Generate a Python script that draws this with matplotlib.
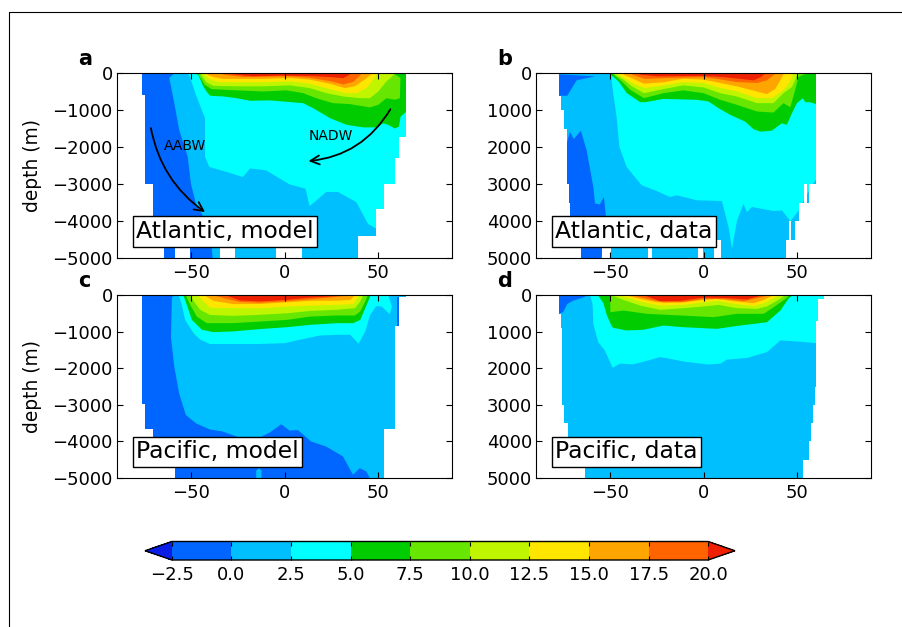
import matplotlib
matplotlib.use("Agg")
import matplotlib.pyplot as plt
from matplotlib.colors import ListedColormap, BoundaryNorm
from matplotlib.cm import ScalarMappable
from matplotlib.lines import Line2D
from matplotlib.ticker import FuncFormatter

levels = [-2.5, 0, 2.5, 5, 7.5, 10, 12.5, 15, 17.5, 20]
colors = ["#0066ff", "#00bfff", "#00ffff", "#00cc00", "#66e600",
          "#c0f500", "#ffe600", "#ffa500", "#ff6400"]
color_under = "#0a1ee6"
color_over = "#ee2000"

# Atlantic, model: sea floor (step) and isotherm depths
a_floor_lat = [-90, -76.7, -74.7, -70.7, -64.6, -58.7, -50.6, -34.8, -26.6, -4.8, 9.3, 39.5, 49.4, 53.3, 59.2, 61.6, 65.5, 90]
a_floor_z = [0, 600, 3000, 4700, 5000, 4700, 5000, 4700, 5000, 4700, 5000, 4400, 3670, 3000, 2300, 1720, 0, 0]
a_cold_lat = [-90, -59, -61.9, -59.2, -56.6, -52, -50.3, -47.6, -44, -39.5, -38.6, -90]
a_cold_z = [0, 0, 130, 815, 1540, 2265, 2990, 3530, 3850, 4500, 5000, 5000]
a_lat_25 = [-52, -50.9, -47.6, -42.7, -42.7, -40.4, -31.4, -22.4, -18.5, -9.9, 2.7, 11.3, 13.5, 22.4, 28.7, 38.6, 44.9, 49.4, 70]
a_z_25 = [20, 90, 590, 1220, 2265, 2540, 2670, 2810, 2580, 2630, 3010, 3125, 3600, 3215, 3215, 3490, 4080, 4210, 4300]
a_lat_50 = [-48, -46.4, -43.7, -41.9, -40, -33, -25.8, -18.6, -7.9, 10, 15.4, 24.4, 33.3, 42.3, 49.5, 53, 55.7, 59.3, 61.5, 62.4, 65.6, 70]
a_z_50 = [20, 45, 360, 500, 615, 634, 680, 750, 740, 815, 950, 1220, 1400, 1470, 1470, 1360, 1400, 1500, 1450, 1180, 1040, 1040]
a_lat_75 = [-45.9, -42.8, -39.2, -25.8, -11.5, 1, 10, 17, 26, 35, 45.9, 50.4, 54.8, 59.3, 62, 62.3, 59.3]
a_z_75 = [70, 320, 435, 470, 500, 470, 545, 680, 815, 840, 930, 860, 680, 725, 680, 135, 30]
a_lat_100 = [-44.6, -42, -38.3, -25.8, -11.5, 3, 13.6, 22.6, 31.5, 40.5, 45.9, 50.4, 54.8, 57.5, 59]
a_z_100 = [60, 250, 345, 360, 360, 335, 410, 545, 635, 680, 680, 500, 225, 110, 25]
a_lat_125 = [-42.8, -40, -34.8, -25.8, -11.5, 3, 13.6, 24.4, 33.3, 38.7, 44, 47.7, 49.8]
a_z_125 = [60, 180, 250, 250, 250, 225, 290, 435, 545, 545, 410, 180, 20]
a_lat_150 = [-42, -38, -33, -24, -11.5, 3, 13.6, 24.4, 32.4, 37.8, 43, 46.8]
a_z_150 = [40, 110, 160, 160, 160, 135, 180, 290, 410, 360, 180, 25]
a_lat_175 = [-33, -22, -11.5, 3, 13.6, 24.4, 31.5, 37, 41.4]
a_z_175 = [45, 110, 100, 90, 130, 220, 310, 240, 25]
a_lat_200 = [-29.4, -16.8, -2.5, 13.6, 24.4, 31.5, 35]
a_z_200 = [25, 90, 70, 80, 110, 140, 50]

# Atlantic, data
b_floor_lat = [-90, -77.7, -76.7, -74.7, -73.6, -72.5, -71.6, -65.7, -54.8, -49.7, -29.6, -27.6, -2.7, -0.5, 5.4, 9.5, 44.5, 46.1, 47, 49.4, 51.5, 54.2, 55.5, 56.8, 60.5, 90]
b_floor_z = [0, 615, 1000, 1500, 3000, 3500, 4700, 5000, 4700, 5000, 4700, 5000, 4700, 5000, 4500, 5000, 4500, 4000, 4500, 4000, 3500, 3000, 3500, 3000, 0, 0]
b_cold_lat = [-90, -58.3, -68.2, -73.2, -76.3, -90]
b_cold_z = [0, 90, 200, 615, 615, 615]
b_pool_lat = [-74, -71.8, -69.7, -65.9, -62.8, -59.2, -58.3, -55.7, -53.5, -52.4, -54.8, -74]
b_pool_z = [2000, 1585, 1785, 1560, 2085, 3080, 3530, 3550, 3350, 3900, 5000, 5000]
b_lat_25 = [-49.9, -48.5, -46.7, -45.2, -41.3, -33.2, -25.1, -18, -14.4, -3.6, 9.9, 13.5, 15.3, 18, 21.5, 23.3, 26, 37.7, 42.2, 46.7, 51.2, 54.8, 60.1, 70]
b_z_25 = [0, 545, 1180, 1990, 2540, 3035, 3190, 3350, 3305, 3440, 3460, 4170, 4750, 3990, 3530, 3760, 3620, 3730, 3715, 4005, 3715, 3350, 2900, 2900]
b_lat_50 = [-49.8, -45.7, -41.2, -34, -31.4, -21.5, -3.6, 2.7, 8, 14.3, 22.4, 26.9, 30.5, 36.7, 42, 44.8, 47.5, 50.2, 53.4, 54.7, 57.3, 60.4, 70]
b_z_50 = [45, 225, 545, 790, 790, 700, 725, 770, 950, 1130, 1315, 1520, 1585, 1560, 1360, 1400, 1090, 815, 680, 790, 790, 840, 840]
b_lat_75 = [-48.4, -44, -39.4, -32, -21.5, -10.8, 0, 9, 17.9, 28.7, 37.6, 43, 46.6, 49.3, 51, 53.8, 55.6]
b_z_75 = [45, 225, 455, 680, 545, 470, 545, 725, 860, 1040, 1070, 815, 925, 455, 110, 45, 20]
b_lat_100 = [-47.5, -43, -38.5, -32, -21.5, -10.8, 0, 9, 17.9, 28.7, 37.6, 43, 47.5, 49.8, 50.5]
b_z_100 = [45, 180, 360, 545, 435, 335, 390, 545, 635, 815, 815, 545, 380, 135, 25]
b_lat_125 = [-45.7, -41.2, -36.7, -31.4, -21.5, -10.8, 0, 9, 17.9, 28.7, 36.7, 42, 44.8, 47.5, 48]
b_z_125 = [45, 180, 315, 405, 335, 245, 270, 405, 495, 680, 680, 500, 360, 135, 25]
b_lat_150 = [-43, -37.6, -32, -21.5, -10.8, 0, 9, 17.9, 28.7, 34, 38.5, 42, 43]
b_z_150 = [45, 160, 290, 250, 155, 180, 270, 360, 500, 570, 435, 135, 25]
b_lat_175 = [-38.5, -31.4, -19.7, 0, 9, 17.9, 28.7, 34, 38.5]
b_z_175 = [45, 160, 135, 110, 175, 245, 270, 200, 25]
b_lat_200 = [-34, -25, 0, 10.7, 19.7, 26.9, 30.5, 33]
b_z_200 = [45, 90, 80, 110, 160, 200, 120, 25]

# Pacific, model
c_floor_lat = [-90, -76.7, -74.7, -70.7, -58.7, 53.3, 59.2, 61.4, 65.5, 90]
c_floor_z = [0, 2980, 3670, 4700, 5000, 3670, 860, 60, 0, 0]
c_cold_lat = [-90, -59, -60.5, -61, -59.2, -56.6, -53, -47.6, -40.4, -33.2, -24.2, -15.3, -8, -1.8, 2.7, 7.2, 14.4, 22.4, 31.4, 36.8, 40.4, 44, 45.8, -12.4, -12.4, -13.8, -15.2, -15.2, -90]
c_cold_z = [0, 0, 60, 1150, 1965, 2690, 3280, 3505, 3670, 3730, 3895, 3940, 3760, 3530, 3705, 3690, 4005, 4140, 4410, 4910, 4730, 4820, 5000, 5000, 4800, 4730, 4800, 5000, 5000]
c_pool_lat = [60.7, 70, 70, 60.7]
c_pool_z = [60, 60, 900, 900]
c_lat_25 = [-56.5, -55.2, -53.4, -48.9, -45.3, -40, -31, -14.4, 0, 8.4, 19.2, 30, 35.3, 39.8, 43.4, 46, 49.3, 52.3, 56.5, 57.7, 56]
c_z_25 = [45, 270, 680, 1040, 1220, 1340, 1340, 1340, 1315, 1220, 1105, 1087, 1087, 1330, 995, 545, 300, 317, 525, 317, 45]
c_lat_50 = [-54.3, -52.5, -49.8, -44.4, -38.2, -27.4, -13, 1.3, 13.8, 28, 37, 40.7, 43.4, 46]
c_z_50 = [20, 270, 680, 950, 1015, 995, 930, 880, 815, 770, 770, 680, 360, 45]
c_lat_75 = [-52.9, -50.7, -47.1, -41.8, -27.4, -13, 1.3, 13.8, 28, 37.9, 40.7, 43.4, 44.6]
c_z_75 = [20, 270, 590, 770, 770, 725, 680, 590, 560, 560, 450, 180, 25]
c_lat_100 = [-50.7, -48, -45.3, -40, -27.4, -14.9, 1.3, 13.8, 28, 37.9, 40.7, 42]
c_z_100 = [20, 225, 405, 545, 570, 545, 500, 435, 405, 360, 180, 25]
c_lat_125 = [-46.2, -43.5, -40, -27.4, -13, 1.3, 13.8, 28, 37, 39.8]
c_z_125 = [20, 180, 345, 360, 360, 315, 290, 270, 250, 25]
c_lat_150 = [-42.7, -38.2, -27.4, -13, 1.3, 13.8, 28, 35.3, 37.6]
c_z_150 = [20, 160, 250, 245, 200, 160, 155, 135, 25]
c_lat_175 = [-37.3, -31, -23.8, -13, 1.3, 13.8, 24.6, 33.5]
c_z_175 = [20, 110, 190, 210, 170, 120, 70, 20]
c_lat_200 = [-31, -23.8, -13, 1.3, 13.8, 30]
c_z_200 = [20, 150, 175, 130, 70, 20]

# Pacific, data
d_floor_lat = [-90, -77.7, -76.7, -75.8, -74.7, -72.7, -63.7, 53.5, 56.6, 57.8, 58.7, 59.8, 60.5, 61.4, 64.6, 90]
d_floor_z = [0, 515, 905, 3000, 3500, 4700, 5000, 4500, 4000, 3500, 3000, 2500, 700, 100, 0, 0]
d_cold_lat = [-90, -62, -64.6, -70, -73.2, -75.4, -77.7, -90]
d_cold_z = [0, 0, 65, 155, 245, 470, 515, 515]
d_lat_25 = [-61, -59.6, -59.2, -56.6, -53, -48.8, -44.9, -37.7, -30.5, -23.3, -9, 2.7, 9, 12.6, 23.3, 34.1, 41.3, 50.3, 60.5, 70]
d_z_25 = [0, 245, 790, 1285, 1515, 1990, 1875, 1895, 1800, 1695, 1830, 1900, 1875, 1765, 1720, 1560, 1240, 1270, 1315, 1315]
d_lat_50 = [-56.5, -53.8, -52, -49.3, -48.5, -41.3, -32.3, -21.5, -10.8, 7.2, 19.7, 34.1, 41.3, 45.8, 47.6]
d_z_50 = [20, 225, 545, 860, 897, 970, 950, 835, 880, 925, 835, 745, 425, 90, 20]
d_lat_75 = [-50.2, -50, -43, -30.5, -12.6, 5.4, 18, 32.3, 37.7, 44, 45.8]
d_z_75 = [20, 470, 425, 515, 560, 605, 515, 515, 335, 110, 20]
d_lat_100 = [-49.8, -47.5, -43, -34, -23.3, -10.7, 0, 8, 18, 28.7, 34, 39.4, 43]
d_z_100 = [20, 45, 135, 290, 405, 360, 315, 270, 360, 380, 315, 160, 45]
d_lat_125 = [-45.7, -39.4, -32.3, -23.3, -10.7, 0, 7.2, 18, 27, 32.3, 37.6, 40.3]
d_z_125 = [20, 90, 200, 290, 270, 200, 160, 250, 300, 225, 90, 25]
d_lat_150 = [-41, -34, -25, -12.5, 0, 7.2, 18, 27, 32.3, 36.7]
d_z_150 = [20, 110, 200, 210, 135, 110, 180, 225, 135, 25]
d_lat_175 = [-37.6, -28.7, -21.5, -10.7, 0, 10.7, 21.5, 30.5, 34]
d_z_175 = [20, 125, 200, 190, 110, 110, 170, 70, 20]
d_lat_200 = [-31.4, -23.3, -12.5, 0, 10.7, 23.3, 30.5]
d_z_200 = [20, 170, 160, 70, 80, 120, 20]

panels = [
    dict(letter="a", name="Atlantic, model", sign=-1, rect=(117, 73, 452, 258),
         floor=(a_floor_lat, a_floor_z), cold=[(a_cold_lat, a_cold_z)],
         iso=[(a_lat_25, a_z_25), (a_lat_50, a_z_50), (a_lat_75, a_z_75), (a_lat_100, a_z_100),
              (a_lat_125, a_z_125), (a_lat_150, a_z_150), (a_lat_175, a_z_175), (a_lat_200, a_z_200)]),
    dict(letter="b", name="Atlantic, data", sign=1, rect=(536, 73, 871, 258),
         floor=(b_floor_lat, b_floor_z), cold=[(b_cold_lat, b_cold_z), (b_pool_lat, b_pool_z)],
         iso=[(b_lat_25, b_z_25), (b_lat_50, b_z_50), (b_lat_75, b_z_75), (b_lat_100, b_z_100),
              (b_lat_125, b_z_125), (b_lat_150, b_z_150), (b_lat_175, b_z_175), (b_lat_200, b_z_200)]),
    dict(letter="c", name="Pacific, model", sign=-1, rect=(117, 295, 452, 478),
         floor=(c_floor_lat, c_floor_z), cold=[(c_cold_lat, c_cold_z), (c_pool_lat, c_pool_z)],
         iso=[(c_lat_25, c_z_25), (c_lat_50, c_z_50), (c_lat_75, c_z_75), (c_lat_100, c_z_100),
              (c_lat_125, c_z_125), (c_lat_150, c_z_150), (c_lat_175, c_z_175), (c_lat_200, c_z_200)]),
    dict(letter="d", name="Pacific, data", sign=1, rect=(536, 295, 871, 478),
         floor=(d_floor_lat, d_floor_z), cold=[(d_cold_lat, d_cold_z)],
         iso=[(d_lat_25, d_z_25), (d_lat_50, d_z_50), (d_lat_75, d_z_75), (d_lat_100, d_z_100),
              (d_lat_125, d_z_125), (d_lat_150, d_z_150), (d_lat_175, d_z_175), (d_lat_200, d_z_200)]),
]

W, H = 903, 627
fig = plt.figure(figsize=(W / 100, H / 100), dpi=100)

def px_axes(x0, y0, x1, y1):
    return fig.add_axes([x0 / W, 1 - y1 / H, (x1 - x0) / W, (y1 - y0) / H])

layer_colors = colors[2:] + [color_over]

for p in panels:
    ax = px_axes(*p["rect"])
    s = p["sign"]

    # base water, then the cold pools, then each warmer layer painted on top
    ax.fill([-90, 90, 90, -90], [0, 0, s * 5000, s * 5000], color=colors[1], lw=0)
    for lat, z in p["cold"]:
        ax.fill(lat, [s * v for v in z], color=colors[0], lw=0)
    for (lat, z), col in zip(p["iso"], layer_colors):
        xs = [lat[0]] + list(lat) + [lat[-1]]
        ys = [0] + [s * v for v in z] + [0]
        ax.fill(xs, ys, color=col, lw=0)

    # sea floor mask
    floor_lat, floor_z = p["floor"]
    ax.fill_between(floor_lat, [s * v for v in floor_z], s * 5100, step="post", color="white", lw=0)

    ax.set_xlim(-90, 90)
    if s < 0:
        ax.set_ylim(-5000, 0)
    else:
        ax.set_ylim(5000, 0)
    ax.set_xticks([-50, 0, 50])
    ax.set_yticks([s * v for v in [0, 1000, 2000, 3000, 4000, 5000]])
    ax.tick_params(direction="in", top=True, right=True, labelsize=13, length=4, width=0.8)
    ax.tick_params(axis="x", pad=4)
    ax.tick_params(axis="y", pad=3)
    if s < 0:
        ax.set_ylabel("depth (m)", fontsize=13.4)
        ax.yaxis.set_label_coords(-0.224, 0.5)

    ax.text(-79.7, s * 4460, p["name"], fontsize=16.9, va="baseline", ha="left", zorder=5,
            bbox=dict(fc="white", ec="black", lw=1, pad=2.5))
    fig.text((p["rect"][0] - 39) / W, 1 - (p["rect"][1] - 8) / H, p["letter"],
             fontsize=15, fontweight="bold", ha="left", va="baseline")

    if p["letter"] == "a":
        ax.annotate("", xy=(-42.7, -3760), xytext=(-71.8, -1490),
                    arrowprops=dict(arrowstyle="->", lw=1.3, color="black", mutation_scale=16,
                                    connectionstyle="arc3,rad=0.2", shrinkA=0, shrinkB=0))
        ax.annotate("", xy=(12.9, -2380), xytext=(56.9, -980),
                    arrowprops=dict(arrowstyle="->", lw=1.3, color="black", mutation_scale=16,
                                    connectionstyle="arc3,rad=-0.25", shrinkA=0, shrinkB=0))
        ax.text(-53.5, -1970, "AABW", fontsize=10, ha="center", va="center")
        ax.text(25, -1700, "NADW", fontsize=10, ha="center", va="center")

# colorbar, the axes takes in the two pointed ends
cax = px_axes(145, 541.5, 735, 560)
cmap = ListedColormap(colors)
cmap.set_under(color_under)
cmap.set_over(color_over)
norm = BoundaryNorm(levels, cmap.N)
fmt = FuncFormatter(lambda v, pos: ("%.1f" % v).replace("-", "\u2212"))
cb = fig.colorbar(ScalarMappable(norm=norm, cmap=cmap), cax=cax, orientation="horizontal",
                  extend="both", extendfrac=0.05, ticks=levels, format=fmt, drawedges=False)
cb.ax.tick_params(direction="in", top=True, bottom=True, labelsize=13, length=3, width=0.8, pad=4)
cb.ax.minorticks_off()
cb.outline.set_linewidth(1)

# page frame
fig.add_artist(Line2D([8.5 / W, 8.5 / W, 1], [0, 1 - 12 / H, 1 - 12 / H], color="black", lw=0.8))

fig.savefig("out.png", dpi=100)
